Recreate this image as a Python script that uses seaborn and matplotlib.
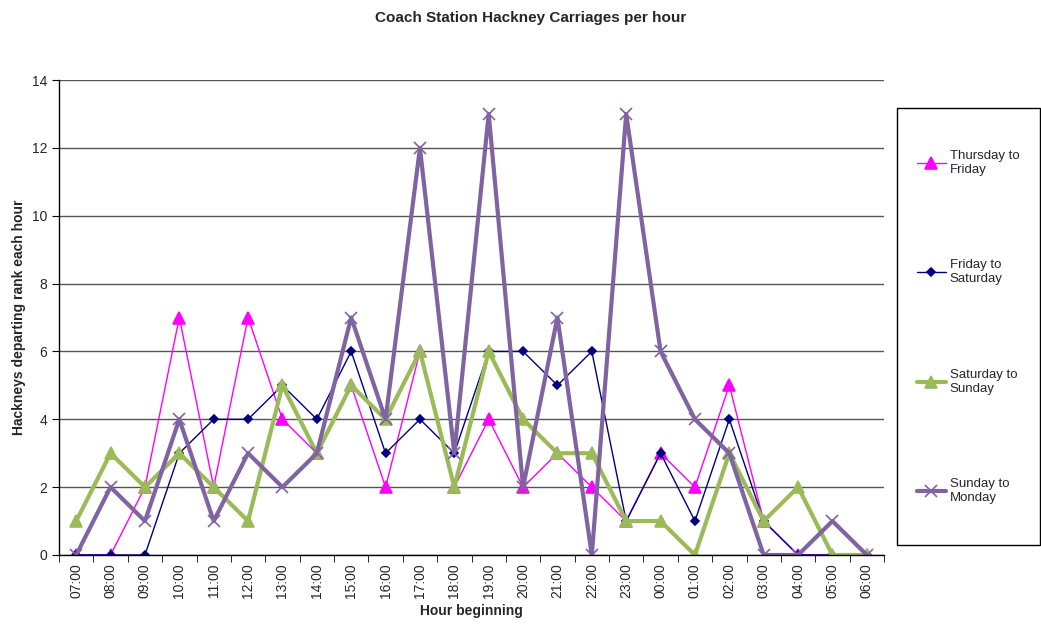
import numpy as np
import pandas as pd
import matplotlib.pyplot as plt
from matplotlib.patches import Rectangle
import seaborn as sns

# hours on the x axis
hours = ["07:00", "08:00", "09:00", "10:00", "11:00", "12:00", "13:00", "14:00",
         "15:00", "16:00", "17:00", "18:00", "19:00", "20:00", "21:00", "22:00",
         "23:00", "00:00", "01:00", "02:00", "03:00", "04:00", "05:00", "06:00"]

# hackneys departing per hour
thu_fri = [0, 0, 2, 7, 2, 7, 4, 3, 5, 2, 6, 2, 4, 2, 3, 2, 1, 3, 2, 5, 1, 0, 0, 0]
fri_sat = [0, 0, 0, 3, 4, 4, 5, 4, 6, 3, 4, 3, 6, 6, 5, 6, 1, 3, 1, 4, 1, 0, 0, 0]
sat_sun = [1, 3, 2, 3, 2, 1, 5, 3, 5, 4, 6, 2, 6, 4, 3, 3, 1, 1, 0, 3, 1, 2, 0, 0]
sun_mon = [0, 2, 1, 4, 1, 3, 2, 3, 7, 4, 12, 3, 13, 2, 7, 0, 13, 6, 4, 3, 0, 0, 1, 0]

series_names = ["Thursday to\nFriday", "Friday to\nSaturday", "Saturday to\nSunday", "Sunday to\nMonday"]

sns.set_style("white")
plt.rcParams['font.family'] = ['Liberation Sans', 'DejaVu Sans']

fig = plt.figure(figsize=(10.41, 6.24), dpi=100)
ax = fig.add_axes([59/1041, 1-555/624, (884-59)/1041, (555-80)/624])

x = np.arange(len(hours))
styles = [
    dict(data=thu_fri, color="#FF00FF", marker="^", ms=8, lw=1.0),
    dict(data=fri_sat, color="#000080", marker="D", ms=4.5, lw=1.0),
    dict(data=sat_sun, color="#9BBB59", marker="^", ms=8, lw=3.0),
    dict(data=sun_mon, color="#8064A2", marker="x", ms=8, lw=3.0),
]
handles = []
for name, st in zip(series_names, styles):
    df = pd.DataFrame({"x": x, "y": st["data"]})
    sns.lineplot(data=df, x="x", y="y", ax=ax, color=st["color"], marker=st["marker"],
                 markersize=st["ms"], linewidth=st["lw"], markeredgecolor=st["color"],
                 markeredgewidth=1.2, label=name, legend=False)
    handles.append(ax.lines[-1])

ax.set_xlim(-0.5, len(hours) - 0.5)
ax.set_ylim(0, 14)
ax.set_yticks(range(0, 15, 2))
ax.yaxis.grid(True, color="#555555", linewidth=1.0)
ax.set_axisbelow(True)

# category labels centred, tick marks between categories
ax.set_xticks(x)
ax.set_xticklabels(hours, rotation=90, fontsize=10)
ax.set_xticks(np.arange(-0.5, len(hours), 1), minor=True)
ax.tick_params(axis="x", which="major", length=0, pad=6)
ax.tick_params(axis="x", which="minor", length=5, direction="out", color="black", bottom=True)
ax.tick_params(axis="y", length=5, direction="out", color="black", left=True, labelsize=10)

for side in ["top", "right"]:
    ax.spines[side].set_visible(False)
for side in ["left", "bottom"]:
    ax.spines[side].set_color("black")
    ax.spines[side].set_linewidth(1.0)

ax.set_xlabel("Hour beginning", fontsize=10, fontweight="bold", labelpad=4)
ax.set_ylabel("Hackneys departing rank each hour", fontsize=10, fontweight="bold", labelpad=4)
fig.suptitle("Coach Station Hackney Carriages per hour", fontsize=11, fontweight="bold",
             x=0.51, y=1-18/624, va="center")

# legend box
fig.patches.append(Rectangle((897/1041, 1-545/624), (1040-897)/1041, (545-108)/624,
                             transform=fig.transFigure, fill=False, edgecolor="black", linewidth=1.0))
leg = fig.legend(handles=handles, labels=series_names, loc="center",
                 bbox_to_anchor=(968/1041, 1-327/624), frameon=False, fontsize=9.5,
                 labelspacing=6.3, handlelength=2.2, handletextpad=0.3)
for t in leg.get_texts():
    t.set_linespacing(1.25)

fig.savefig("out.png", dpi=100)
